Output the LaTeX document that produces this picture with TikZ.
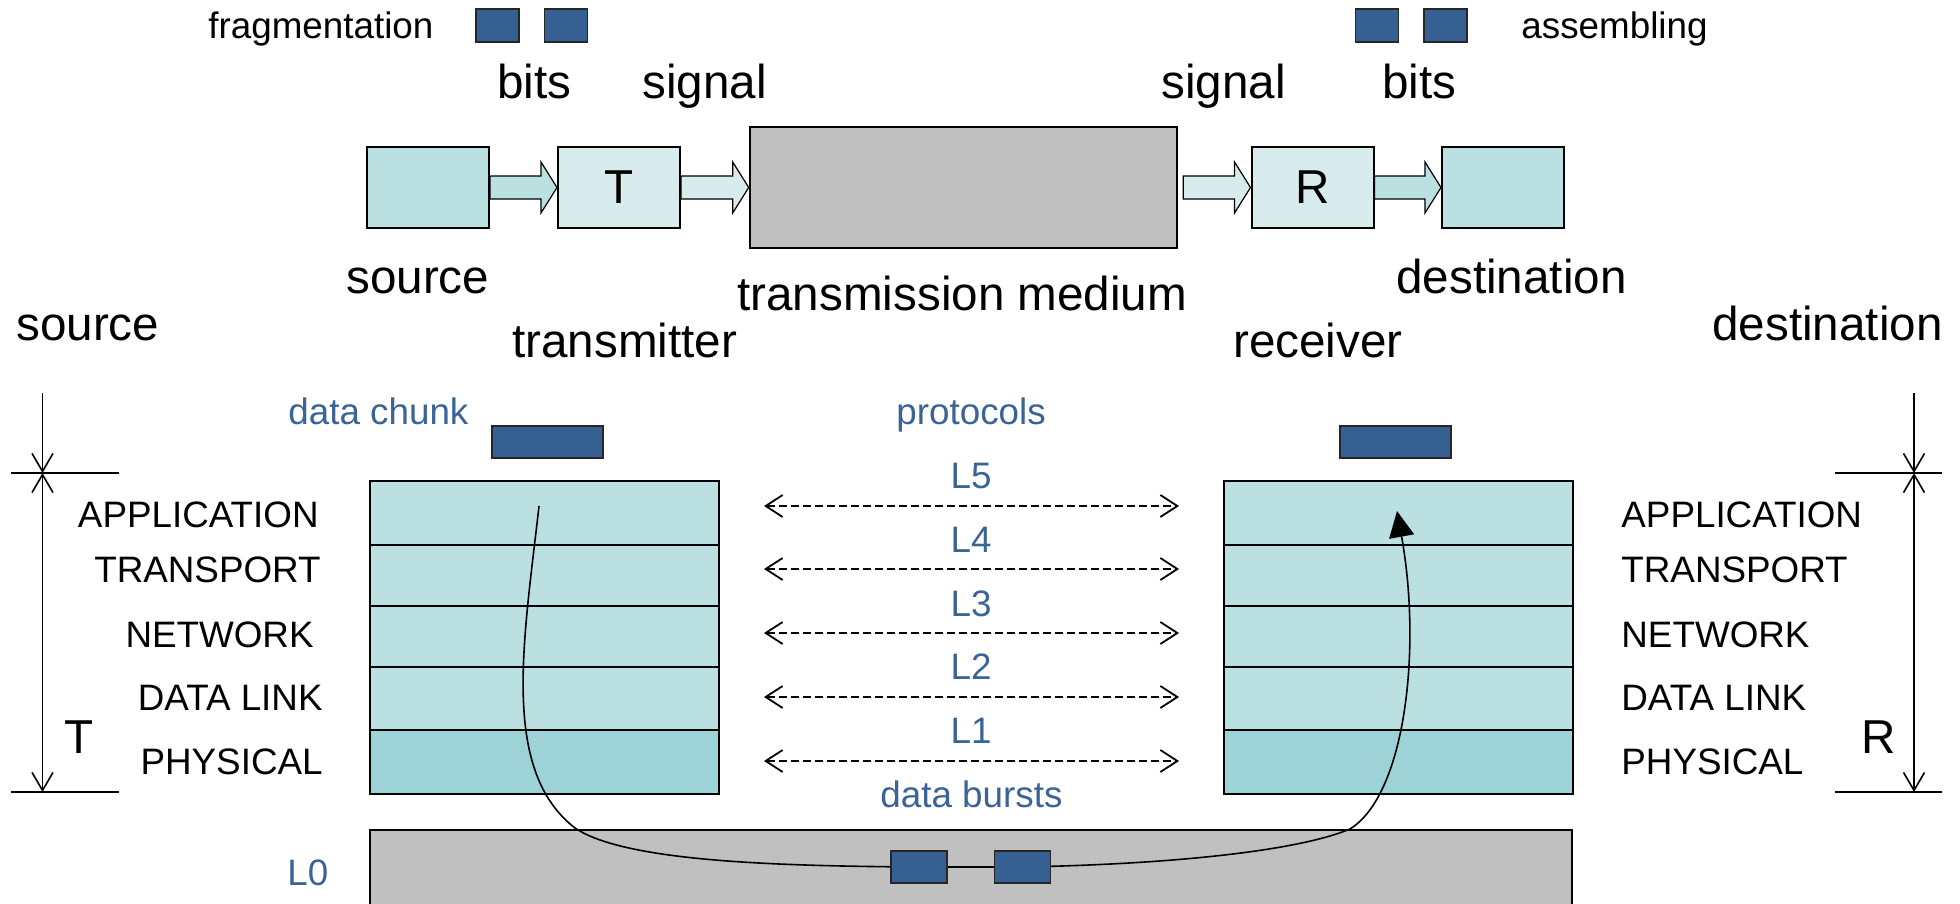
\documentclass[tikz,border=0pt]{standalone}
\usepackage{fontspec}
\setmainfont{Liberation Sans}
\usetikzlibrary{arrows.meta,calc}
\definecolor{cyanA}{HTML}{BAE0E2}
\definecolor{cyanB}{HTML}{D8ECEE}
\definecolor{cyanC}{HTML}{9DD3D7}
\definecolor{grayM}{HTML}{C0C0C0}
\definecolor{bitblue}{HTML}{376092}
\definecolor{lblue}{HTML}{3A6396}
\newcommand{\blockarr}[3]{%
  \path[draw=black, line width=0.6pt, fill=#3] let \p1=#1, \p2=#2 in
    (\x1,\y1+5.75pt) -- (\x2-8pt,\y1+5.75pt) -- (\x2-8pt,\y1+12.75pt) -- (\x2,\y1)
    -- (\x2-8pt,\y1-12.75pt) -- (\x2-8pt,\y1-5.75pt) -- (\x1,\y1-5.75pt) -- cycle;}
\begin{document}
\begin{tikzpicture}[x=0.5pt,y=-0.5pt,
  big/.style={font=\fontsize{23.8pt}{28pt}\selectfont, inner sep=0pt, anchor=base west},
  small/.style={font=\fontsize{18.4pt}{22pt}\selectfont, inner sep=0pt, anchor=base west},
  bl/.style={small, text=lblue},
  box/.style={draw, line width=1pt, inner sep=0pt, minimum width=61pt, minimum height=40.5pt},
  layer/.style={draw, line width=1pt, inner sep=0pt, minimum width=174.5pt},
  bit/.style={draw=black!85, line width=0.9pt, fill=bitblue, inner sep=0pt},
  dasharr/.style={line width=0.9pt, dash pattern=on 4pt off 2pt,
    {Straight Barb[length=8.5pt,width=11pt]}-{Straight Barb[length=8.5pt,width=11pt]}},
  dimline/.style={line width=0.8pt},
  dimtip/.style={-{Straight Barb[length=9pt,width=10.5pt]}},
]
\useasboundingbox (0,0) rectangle (1960,904);

% ---------- top chain ----------
\node[box, fill=cyanA] (src) at (428,187.5) {};
\node[box, fill=cyanB, font=\fontsize{23.8pt}{28pt}\selectfont] (T) at (619,187.5) {T};
\node[draw, line width=1.3pt, fill=grayM, inner sep=0pt, minimum width=213.5pt, minimum height=60.5pt] (med) at (963.5,187.5) {};
\node[box, fill=cyanB, font=\fontsize{23.8pt}{28pt}\selectfont] (R) at (1312.5,187.5) {R};
\node[box, fill=cyanA] (dst) at (1503,187.5) {};

\blockarr{(src.east)}{(T.west)}{cyanA}
\blockarr{(T.east)}{(med.west)}{cyanB}
\blockarr{([xshift=2.5pt]med.east)}{(R.west)}{cyanB}
\blockarr{(R.east)}{(dst.west)}{cyanA}

% bits squares
\node[bit, minimum width=21.5pt, minimum height=16.5pt] (b1) at (497.5,25.5) {};
\node[bit, minimum width=21.5pt, minimum height=16.5pt] (b2) at (566,25.5) {};
\node[bit, minimum width=21.5pt, minimum height=16.5pt] (b3) at (1377,25.5) {};
\node[bit, minimum width=21.5pt, minimum height=16.5pt] (b4) at (1445.5,25.5) {};

\node[small] (frag) at (208,39) {fragmentation};
\node[small] (asm) at (1521,39) {assembling};

\node[big] (bitsL) at (497,99) {bits};
\node[big] (sigL) at (642,99) {signal};
\node[big] (sigR) at (1161,99) {signal};
\node[big] (bitsR) at (1382,99) {bits};

\node[big] (lsrc) at (346,293) {source};
\node[big] (lmed) at (737,310) {transmission medium};
\node[big] (ldst) at (1396,293) {destination};
\node[big] (lsrc2) at (16,340) {source};
\node[big] (ltx) at (512,357) {transmitter};
\node[big] (lrx) at (1233,357) {receiver};
\node[big] (ldst2) at (1712,340) {destination};

% ---------- stacks ----------
\foreach \n/\c/\h/\f in {1/513/32/cyanA, 2/575.5/30.5/cyanA, 3/636.5/30.5/cyanA, 4/698.5/31.5/cyanA, 5/762/32/cyanC}{
  \node[layer, fill=\f, minimum height=\h pt] (L\n) at (544.5,\c) {};
  \node[layer, fill=\f, minimum height=\h pt] (Rr\n) at (1398,\c) {};
}

\node[small, anchor=base east] (la1) at (319,527) {APPLICATION};
\node[small, anchor=base east] (la2) at (321,582) {TRANSPORT};
\node[small, anchor=base east] (la3) at (314,647) {NETWORK};
\node[small, anchor=base east] (la4) at (323,710) {DATA LINK};
\node[small, anchor=base east] (la5) at (323,774) {PHYSICAL};
\node[small] (ra1) at (1621,527) {APPLICATION};
\node[small] (ra2) at (1621,582) {TRANSPORT};
\node[small] (ra3) at (1621,647) {NETWORK};
\node[small] (ra4) at (1621,710) {DATA LINK};
\node[small] (ra5) at (1621,774) {PHYSICAL};

% data chunks
\node[bit, minimum width=55.5pt, minimum height=16pt] (chL) at (547.5,442) {};
\node[bit, minimum width=55.5pt, minimum height=16pt] (chR) at (1395.5,442) {};
\node[bl] (dchunk) at (288,424) {data chunk};
\node[bl] (prot) at (896,424) {protocols};

% protocol arrows
\foreach \n/\yl/\ya in {5/488/506, 4/552/569, 3/616/633, 2/679/697, 1/743/761}{
  \node[bl, anchor=base] (lab\n) at (971,\yl) {L\n};
  \coordinate (pa\n) at (764,\ya);
  \coordinate (pb\n) at (1179,\ya);
  \draw[dasharr] (pa\n) -- (pb\n);
}
\node[bl] (dbursts) at (880,807) {data bursts};

% ---------- physical medium ----------
\fill[grayM] (370,830) rectangle (1572,910);
\draw[line width=1.3pt] (370,910) -- (370,830) -- (1572,830) -- (1572,910);
\node[bl] (l0) at (287,885) {L0};

% path of data
\coordinate (cs) at (539,506);
\coordinate (ce) at (1397,511);
\draw[line width=0.8pt, -{Triangle[length=13pt,width=12.5pt]}]
  (cs) .. controls (524,640) and (500,770) .. (575,828)
       .. controls (625,862) and (780,866) .. (919,867)
       -- (1022.5,867)
       .. controls (1180,864) and (1300,850) .. (1350,829)
       .. controls (1405,795) and (1422,650) .. (ce);

\node[bit, minimum width=28pt, minimum height=16pt] (db1) at (919,867) {};
\node[bit, minimum width=28pt, minimum height=16pt] (db2) at (1022.5,867) {};

% ---------- dimension lines ----------
\coordinate (dlt) at (42.5,393);
\coordinate (dlm) at (42.5,473);
\coordinate (dlb) at (42.5,792);
\draw[dimline] (11,473) -- (119,473);
\draw[dimline] (11,792) -- (119,792);
\draw[dimline, dimtip] (dlt) -- (dlm);
\draw[dimline, {Straight Barb[length=9pt,width=10.5pt]}-{Straight Barb[length=9pt,width=10.5pt]}] (dlm) -- (dlb);
\node[big] (Tdim) at (64,753) {T};

\coordinate (drt) at (1914,393);
\coordinate (drm) at (1914,473);
\coordinate (drb) at (1914,792);
\draw[dimline] (1835,473) -- (1942,473);
\draw[dimline] (1835,792) -- (1942,792);
\draw[dimline, dimtip] (drt) -- (drm);
\draw[dimline, {Straight Barb[length=9pt,width=10.5pt]}-{Straight Barb[length=9pt,width=10.5pt]}] (drm) -- (drb);
\node[big] (Rdim) at (1861,753) {R};
\end{tikzpicture}
\end{document}
